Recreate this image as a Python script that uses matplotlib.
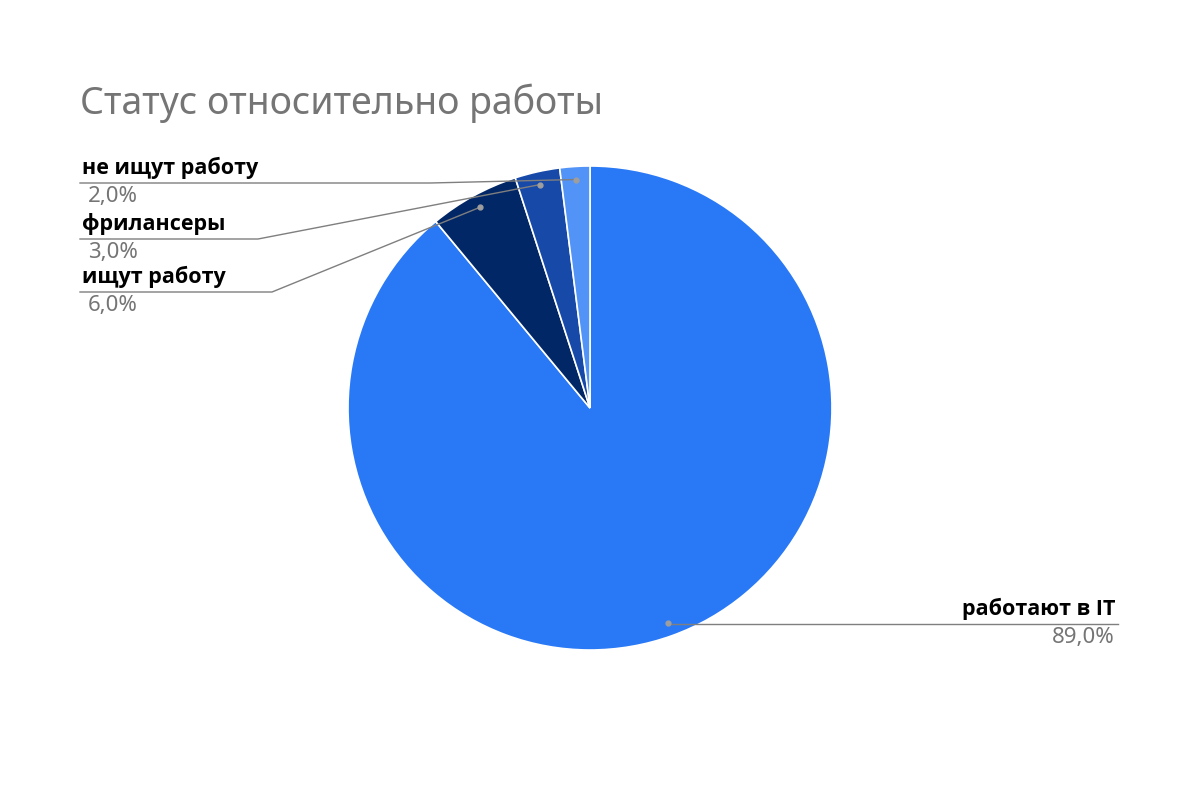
import numpy as np
import matplotlib
matplotlib.use("Agg")
import matplotlib.pyplot as plt

plt.rcParams['font.family'] = ['Noto Sans', 'DejaVu Sans']

title = "Статус относительно работы"
labels = ["работают в IT", "ищут работу", "фрилансеры", "не ищут работу"]
values = [89.0, 6.0, 3.0, 2.0]
colors = ["#2979F6", "#022766", "#1649A8", "#5193F7"]

W, H = 1200, 800
fig = plt.figure(figsize=(12, 8), dpi=100)
ax = fig.add_axes([0, 0, 1, 1])

cx, cy, R = 590, H - 408, 242
wedges, _ = ax.pie(values, colors=colors, startangle=90, counterclock=False,
                   center=(cx, cy), radius=R,
                   wedgeprops=dict(edgecolor="white", linewidth=1.2))
ax.set_xlim(0, W)
ax.set_ylim(0, H)
ax.set_aspect('equal')
ax.axis('off')

fig.text(80 / W, 1 - 103 / H, title, fontsize=27, color="#757575",
         va='center', ha='left')

# label layout: (elbow x, line y, line end x, text x, align)
layout = [
    (1118, 624, 1118, 1115, 'right'),   # IT
    (272, 292, 80, 82, 'left'),
    (258, 239, 80, 82, 'left'),
    (430, 183, 80, 82, 'left'),
]
line_col = "#7f7f7f"
bold_fam = ['Open Sans', 'Lato', 'DejaVu Sans']
for w, lab, val, (ex, ly, endx, tx, al) in zip(wedges, labels, values, layout):
    ang = np.deg2rad((w.theta1 + w.theta2) / 2)
    px = cx + 0.946 * R * np.cos(ang)
    py = cy + 0.946 * R * np.sin(ang)
    lyy = H - ly
    ax.plot([px], [py], 'o', color="#9e9e9e", markersize=3.5, zorder=5)
    if al == 'right':
        ax.plot([px, ex], [lyy, lyy], color=line_col, lw=1, zorder=4)
    else:
        ax.plot([px, ex, endx], [py, lyy, lyy], color=line_col, lw=1, zorder=4)
    ax.text(tx, lyy + 4, lab, fontsize=15.5, fontweight='bold', color="black",
            family=bold_fam, ha=al, va='bottom')
    ax.text(tx + (6 if al == 'left' else 0), lyy - 3, f"{val:.1f}%".replace('.', ','),
            fontsize=16, color="#757575", ha=al, va='top')

fig.savefig("out.png", dpi=100, facecolor="white")
